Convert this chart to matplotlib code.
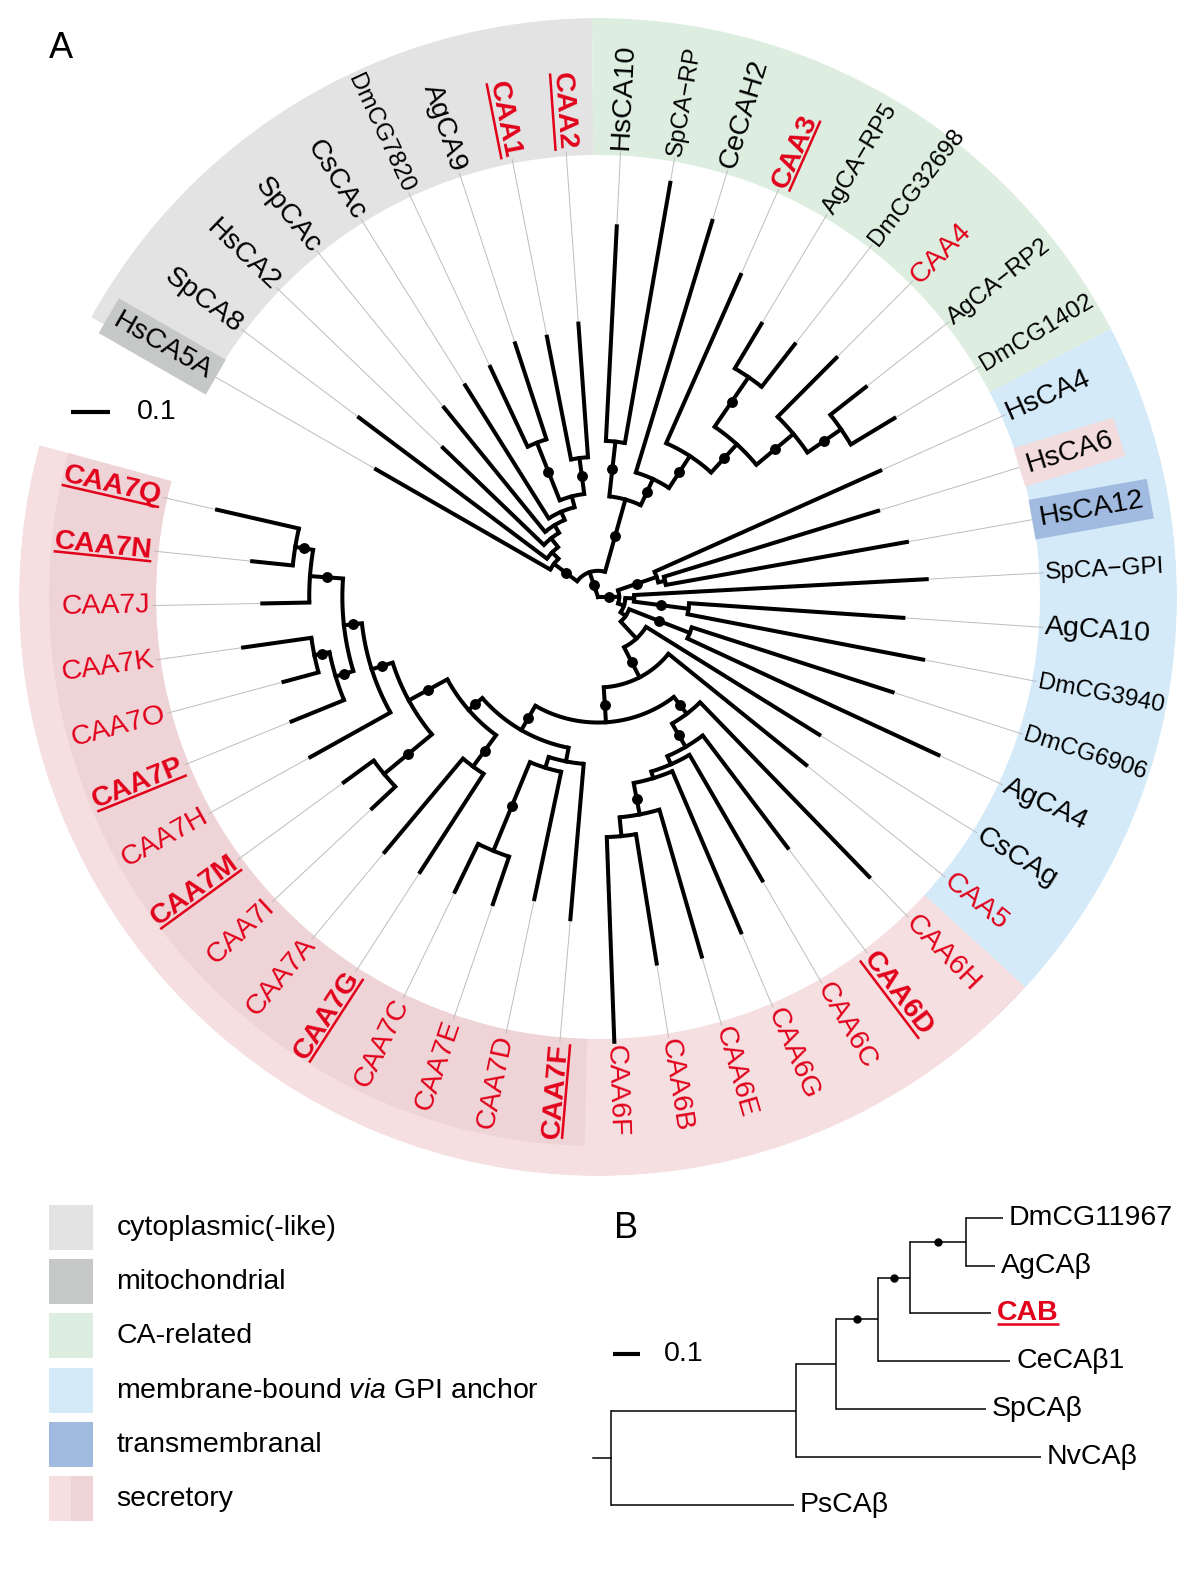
import numpy as np
import matplotlib
matplotlib.use("Agg")
import matplotlib.pyplot as plt
from matplotlib.lines import Line2D
from matplotlib.patches import Rectangle

plt.rcParams["font.family"] = ["Liberation Sans", "DejaVu Sans"]
plt.rcParams["mathtext.fontset"] = "custom"
plt.rcParams["mathtext.rm"] = "Liberation Sans"
plt.rcParams["mathtext.it"] = "Liberation Sans:italic"
plt.rcParams["mathtext.bf"] = "Liberation Sans:bold"

# ====================== DATA: panel A (circular tree) ======================
leaves_a = ["HsCA5A", "SpCA8", "HsCA2", "SpCAc", "CsCAc", "DmCG7820", "AgCA9", "CAA1", "CAA2",
            "HsCA10", "SpCA−RP", "CeCAH2", "CAA3", "AgCA−RP5", "DmCG32698", "CAA4", "AgCA−RP2",
            "DmCG1402", "HsCA4", "HsCA6", "HsCA12", "SpCA−GPI", "AgCA10", "DmCG3940", "DmCG6906",
            "AgCA4", "CsCAg", "CAA5", "CAA6H", "CAA6D", "CAA6C", "CAA6G", "CAA6E", "CAA6B", "CAA6F",
            "CAA7F", "CAA7D", "CAA7E", "CAA7C", "CAA7G", "CAA7A", "CAA7I", "CAA7M", "CAA7H", "CAA7P",
            "CAA7O", "CAA7K", "CAA7J", "CAA7N", "CAA7Q"]

# (child, parent, branch length in substitutions/site)
root_edges = [("A", "root", 0.068), ("B", "root", 0.055)]
cyto_edges = [("Xcyto", "A", 0.075), ("HsCA5A", "Xcyto", 0.522), ("X5", "Xcyto", 0.023),
              ("SpCA8", "X5", 0.610), ("X4", "X5", 0.029), ("HsCA2", "X4", 0.364),
              ("X3", "X4", 0.023), ("SpCAc", "X3", 0.416), ("X2", "X3", 0.023),
              ("CsCAc", "X2", 0.408), ("X1", "X2", 0.029), ("Xda", "X1", 0.161),
              ("DmCG7820", "Xda", 0.229), ("AgCA9", "Xda", 0.262), ("Xcc", "X1", 0.094),
              ("CAA1", "Xcc", 0.325), ("CAA2", "Xcc", 0.348)]
carel_edges = [("Y1", "A", 0.195), ("Yhs", "Y1", 0.143), ("HsCA10", "Yhs", 0.558),
               ("SpCA−RP", "Yhs", 0.686), ("Y2", "Y1", 0.075), ("CeCAH2", "Y2", 0.683),
               ("Z1", "Y2", 0.099), ("CAA3", "Z1", 0.478), ("Z2", "Z1", 0.099),
               ("Zad", "Z2", 0.156), ("AgCA−RP5", "Zad", 0.135), ("DmCG32698", "Zad", 0.140),
               ("Z3", "Z2", 0.125), ("CAA4", "Z3", 0.216), ("Zad2", "Z3", 0.106),
               ("AgCA−RP2", "Zad2", 0.117), ("DmCG1402", "Zad2", 0.132)]
gpi_edges = [("G1", "B", 0.106), ("HsCA4", "G1", 0.642), ("G1b", "G1", 0.018),
             ("HsCA6", "G1b", 0.582), ("HsCA12", "G1b", 0.636), ("B2", "B", 0.016),
             ("G2", "B2", 0.023), ("SpCA−GPI", "G2", 0.761), ("G2b", "G2", 0.143),
             ("AgCA10", "G2b", 0.558), ("DmCG3940", "G2b", 0.623), ("B3", "B2", 0.016),
             ("G3", "B3", 0.169), ("DmCG6906", "G3", 0.548), ("AgCA4", "G3", 0.719),
             ("S2", "B3", 0.060), ("CsCAg", "S2", 0.530), ("S1", "S2", 0.088),
             ("CAA5", "S1", 0.460), ("S3", "S1", 0.091)]
caa6_edges = [("C6a", "S3", 0.055), ("CAA6H", "C6a", 0.631), ("C6b", "C6a", 0.070),
              ("CAA6D", "C6b", 0.366), ("C6c", "C6b", 0.023), ("CAA6C", "C6c", 0.377),
              ("C6d", "C6c", 0.018), ("CAA6G", "C6d", 0.455), ("C6e", "C6d", 0.083),
              ("CAA6E", "C6e", 0.397), ("C6f", "C6e", 0.049), ("CAA6B", "C6f", 0.340),
              ("CAA6F", "C6f", 0.532)]
caa7_edges = [("C7", "S3", 0.073), ("C7r", "C7", 0.036), ("CAA7F", "C7r", 0.405),
              ("C7r2", "C7r", 0.029), ("CAA7D", "C7r2", 0.338), ("C7r3", "C7r2", 0.249),
              ("CAA7E", "C7r3", 0.130), ("CAA7C", "C7r3", 0.138), ("C7a", "C7", 0.047),
              ("C7b", "C7a", 0.101), ("CAA7G", "C7b", 0.304), ("CAA7A", "C7b", 0.317),
              ("C7c", "C7a", 0.114), ("C7d", "C7c", 0.161), ("CAA7I", "C7d", 0.083),
              ("CAA7M", "C7d", 0.096), ("C7e", "C7c", 0.057), ("CAA7H", "C7e", 0.238),
              ("C7f", "C7e", 0.047), ("C7g", "C7f", 0.048), ("CAA7P", "C7g", 0.147),
              ("C7h", "C7g", 0.040), ("CAA7O", "C7h", 0.094), ("CAA7K", "C7h", 0.179),
              ("C7i", "C7f", 0.086), ("CAA7J", "C7i", 0.122), ("C7j", "C7i", 0.047),
              ("CAA7N", "C7j", 0.106), ("CAA7Q", "C7j", 0.218)]

supported_a = ["A", "B", "Xcyto", "Xda", "Xcc", "Y1", "Yhs", "Y2", "Z1", "Z2", "Zad", "Z3",
               "Zad2", "G1", "G2b", "G3", "S1", "S3", "C6a", "C6b", "C6e", "C7", "C7a", "C7b",
               "C7c", "C7d", "C7e", "C7f", "C7g", "C7h", "C7i", "C7j", "C7r3"]
bold_underlined = ["CAA1", "CAA2", "CAA3", "CAA6D", "CAA7F", "CAA7G", "CAA7M", "CAA7P",
                   "CAA7N", "CAA7Q"]
narrow_labels = ["DmCG7820", "SpCA−RP", "AgCA−RP5", "DmCG32698", "AgCA−RP2", "DmCG1402",
                 "SpCA−GPI", "DmCG3940", "DmCG6906"]
boxed_labels = ["HsCA5A", "HsCA6", "HsCA12"]
boxed_colors = ["#c6c7c7", "#f2dcdd", "#a1bbe0"]

# localisation sectors: first leaf, last leaf, colour
sector_first = ["HsCA5A", "HsCA10", "HsCA4", "CAA6H"]
sector_last = ["CAA2", "DmCG1402", "CAA5", "CAA7Q"]
sector_colors = ["#e3e3e3", "#ddeee1", "#d4eaf8", "#f5dfe0"]
inner_sector = ("CAA7F", "CAA7Q", "#efd4d7")

legend_labels = ["cytoplasmic(-like)", "mitochondrial", "CA-related",
                 r"membrane-bound $\mathit{via}$ GPI anchor", "transmembranal", "secretory"]
legend_colors = ["#e3e3e3", "#c6c7c7", "#ddeee1", "#d4eaf8", "#a1bbe0", "#f5dfe0"]
legend_second = "#efd4d7"

scale_value = 0.1

# ====================== DATA: panel B ======================
leaves_b = ["DmCG11967", "AgCAβ", "CAB", "CeCAβ1", "SpCAβ", "NvCAβ", "PsCAβ"]
b_edges = [("n1", "rootB", 0.687), ("PsCAβ", "rootB", 0.680), ("NvCAβ", "n1", 0.907),
           ("n2", "n1", 0.146), ("SpCAβ", "n2", 0.556), ("n3", "n2", 0.159),
           ("CeCAβ1", "n3", 0.489), ("n4", "n3", 0.116), ("CAB", "n4", 0.302),
           ("n5", "n4", 0.207), ("DmCG11967", "n5", 0.137), ("AgCAβ", "n5", 0.109)]
supported_b = ["n3", "n4", "n5"]
root_stub_b = 0.064

# ====================== layout constants ======================
W, H, DPI = 1200, 1588, 100
CX, CY = 598, 597
R_OUT, R_IN, R_DARK = 579, 442, 549
R_LAB, R_LEAD = 448, 446
PX = 385.0                       # pixels per substitution unit (panel A)
PXB = 270.0                      # pixels per substitution unit (panel B)
BX0, BY0, BDY = 610.6, 1217.7, 47.88
THETA0, DTHETA = 150.1, 7.0
RED = "#e2001a"
FS = 20.5
FS_NARROW = 17.5
FAM = ["Liberation Sans", "DejaVu Sans"]


def build(edges):
    parent, blen, children = {}, {}, {}
    for c, p, l in edges:
        parent[c] = p
        blen[c] = l
        children.setdefault(p, []).append(c)
    return parent, blen, children


fig = plt.figure(figsize=(W / DPI, H / DPI), dpi=DPI)
ax_px = fig.add_axes([0, 0, 1, 1])
ax_px.set_xlim(0, W)
ax_px.set_ylim(H, 0)
ax_px.set_axis_off()

axp = fig.add_axes([(CX - R_OUT) / W, (H - CY - R_OUT) / H, 2 * R_OUT / W, 2 * R_OUT / H],
                   projection="polar")
axp.set_ylim(0, R_OUT / PX)
axp.set_axis_off()

# ---------- tree A layout ----------
edges_a = root_edges + cyto_edges + carel_edges + gpi_edges + caa6_edges + caa7_edges
parent, blen, children = build(edges_a)
depth = {"root": 0.0}


def set_depth(n):
    for c in children.get(n, []):
        depth[c] = depth[n] + blen[c]
        set_depth(c)


set_depth("root")
angle = {name: THETA0 - i * DTHETA for i, name in enumerate(leaves_a)}


def set_angle(n):
    if n in angle:
        return angle[n]
    a = [set_angle(c) for c in children[n]]
    angle[n] = 0.5 * (min(a) + max(a))
    return angle[n]


set_angle("root")

# ---------- sectors ----------
half = DTHETA / 2
pads_hi = [1.0, half, half, half]
pads_lo = [half, half, half, 2.3]
for f, l, col, ph, pl in zip(sector_first, sector_last, sector_colors, pads_hi, pads_lo):
    hi = angle[f] + ph
    lo = angle[l] - pl
    axp.bar(np.deg2rad(lo), (R_OUT - R_IN) / PX, width=np.deg2rad(hi - lo), bottom=R_IN / PX,
            align="edge", color=col, linewidth=0, zorder=0)
f, l, col = inner_sector
hi = angle[f] + half
lo = angle[l] - pads_lo[-1]
axp.bar(np.deg2rad(lo), (R_DARK - R_IN) / PX, width=np.deg2rad(hi - lo), bottom=R_IN / PX,
        align="edge", color=col, linewidth=0, zorder=0.5)

# ---------- branches ----------
LW = 2.9
for n, ch in children.items():
    if n == "root":
        continue
    a = [angle[c] for c in ch]
    th = np.deg2rad(np.linspace(min(a), max(a), 80))
    axp.plot(th, np.full_like(th, depth[n]), color="black", lw=LW, solid_capstyle="butt",
             zorder=3)
for c, p in parent.items():
    t = np.deg2rad(angle[c])
    axp.plot([t, t], [depth[p], depth[c]], color="black", lw=LW,
             solid_capstyle="projecting", zorder=3)
for leaf in leaves_a:
    t = np.deg2rad(angle[leaf])
    if depth[leaf] < R_LEAD / PX:
        axp.plot([t, t], [depth[leaf], R_LEAD / PX], color="#bdbdbd", lw=0.7, zorder=2)
for n in supported_a:
    r = 0.5 * (depth[parent[n]] + depth[n])
    axp.plot(np.deg2rad(angle[n]), r, "o", ms=6.8, color="black", zorder=4)

# ---------- leaf labels ----------
underlined = []
for leaf in leaves_a:
    th = angle[leaf]
    norm = (th + 180) % 360 - 180
    right = -90 < norm <= 90
    rot = norm if right else (norm - 180 if norm > 0 else norm + 180)
    ha = "left" if right else "right"
    color = RED if leaf.startswith("CAA") else "black"
    weight = "bold" if leaf in bold_underlined else "normal"
    size = FS_NARROW if leaf in narrow_labels else FS
    txt = axp.text(np.deg2rad(th), R_LAB / PX, leaf, rotation=rot, rotation_mode="anchor",
                   ha=ha, va="center", fontsize=size, color=color, fontweight=weight,
                   family=FAM, zorder=6)
    if leaf in boxed_labels:
        bc = boxed_colors[boxed_labels.index(leaf)]
        txt.set_bbox(dict(boxstyle="square,pad=0.25", fc=bc, ec="none"))
    if leaf in bold_underlined:
        underlined.append((txt, ha))

# ---------- scale bar A & letters ----------
ax_px.plot([71, 71 + scale_value * PX], [412, 412], color="black", lw=3.0,
           solid_capstyle="butt")
ax_px.text(137, 412, "0.1", fontsize=FS, ha="left", va="center")
ax_px.text(61, 49, "A", fontsize=26, ha="center", va="center")
ax_px.text(626, 1228, "B", fontsize=26, ha="center", va="center")

# ---------- legend ----------
row_top = [1205, 1259, 1313, 1368, 1422, 1476]
for i, (lab, col) in enumerate(zip(legend_labels, legend_colors)):
    y0 = row_top[i]
    if i == len(legend_labels) - 1:
        ax_px.add_patch(Rectangle((48.5, y0), 22, 45, fc=col, ec="none"))
        ax_px.add_patch(Rectangle((70.5, y0), 22.5, 45, fc=legend_second, ec="none"))
    else:
        ax_px.add_patch(Rectangle((48.5, y0), 44.5, 45, fc=col, ec="none"))
    ax_px.text(116.5, y0 + 23, lab, fontsize=20.5, ha="left", va="center")

# ---------- panel B ----------
ax_b = fig.add_axes([580 / W, (H - 1530) / H, 610 / W, 340 / H])
ax_b.set_xlim((580 - BX0) / PXB, (1190 - BX0) / PXB)
ax_b.set_ylim((1530 - BY0) / BDY, (1190 - BY0) / BDY)
ax_b.set_axis_off()
pb, lb, chb = build(b_edges)
xb = {"rootB": 0.0}


def set_x(n):
    for c in chb.get(n, []):
        xb[c] = xb[n] + lb[c]
        set_x(c)


set_x("rootB")
yb = {name: float(i) for i, name in enumerate(leaves_b)}


def set_y(n):
    if n in yb:
        return yb[n]
    v = [set_y(c) for c in chb[n]]
    yb[n] = 0.5 * (min(v) + max(v))
    return yb[n]


set_y("rootB")
LWB = 1.1
for c, p in pb.items():
    ax_b.plot([xb[p], xb[c]], [yb[c], yb[c]], color="black", lw=LWB, solid_capstyle="butt")
for n, ch in chb.items():
    v = [yb[c] for c in ch]
    ax_b.plot([xb[n], xb[n]], [min(v), max(v)], color="black", lw=LWB,
              solid_capstyle="projecting")
ax_b.plot([-root_stub_b, 0], [yb["rootB"], yb["rootB"]], color="black", lw=LWB)
for n in supported_b:
    ax_b.plot(0.5 * (xb[pb[n]] + xb[n]), yb[n], "o", ms=5, color="black")
cab_txt = None
gap_b = 5.7 / PXB
for leaf in leaves_b:
    if leaf == "CAB":
        cab_txt = ax_b.text(xb[leaf] + gap_b, yb[leaf], leaf, fontsize=20.5, ha="left",
                            va="center", color=RED, fontweight="bold")
    else:
        ax_b.text(xb[leaf] + gap_b, yb[leaf], leaf, fontsize=20.5, ha="left", va="center")
sb_y = (1354 - BY0) / BDY
sb_x0 = (612.5 - BX0) / PXB
ax_b.plot([sb_x0, sb_x0 + scale_value], [sb_y, sb_y], color="black", lw=3.0,
          solid_capstyle="butt")
ax_b.text((664 - BX0) / PXB, sb_y, "0.1", fontsize=20.5, ha="left", va="center")

# ---------- underlines (computed from the rendered text metrics) ----------
fig.canvas.draw()
renderer = fig.canvas.get_renderer()


def add_underline(txt, ha, anchor, color):
    fp = txt.get_fontproperties()
    w, h, d = renderer.get_text_width_height_descent(txt.get_text(), fp, ismath=False)
    _, lh, ld = renderer.get_text_width_height_descent("lp", fp, ismath=False)
    hh, dd = max(h, lh), max(d, ld)
    off = hh / 2 - dd + 0.12 * fp.get_size_in_points() * DPI / 72.0
    rot = np.deg2rad(txt.get_rotation())
    u = np.array([np.cos(rot), np.sin(rot)])
    nvec = np.array([np.sin(rot), -np.cos(rot)])
    P = np.asarray(anchor)
    if ha == "left":
        s0, s1 = P, P + w * u
    else:
        s0, s1 = P - w * u, P
    p0, p1 = s0 + off * nvec, s1 + off * nvec
    fig.add_artist(Line2D([p0[0] / W, p1[0] / W], [p0[1] / H, p1[1] / H],
                          transform=fig.transFigure, color=color, lw=1.8,
                          solid_capstyle="butt"))


for txt, ha in underlined:
    anchor = axp.transData.transform(txt.get_position())
    add_underline(txt, ha, anchor, RED)
anchor_b = ax_b.transData.transform(cab_txt.get_position())
add_underline(cab_txt, "left", anchor_b, RED)

fig.savefig("out.png", dpi=DPI)
